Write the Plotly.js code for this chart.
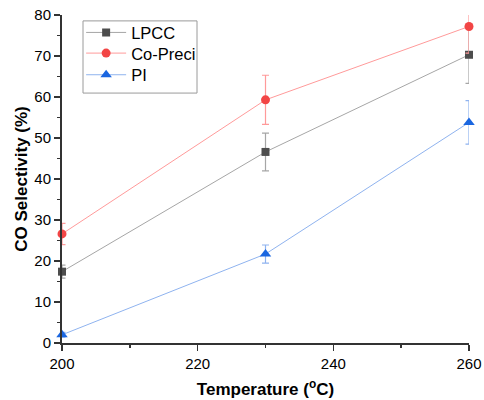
<!DOCTYPE html>
<html>
<head>
<meta charset="utf-8">
<script src="https://cdn.plot.ly/plotly-3.0.1.min.js"></script>
<style>html,body{margin:0;padding:0;background:#fff;}#chart{width:484px;height:400px;}</style>
</head>
<body>
<div id="chart"></div>
<script>
const temperature = [200, 230, 260];
const seriesNames = ["LPCC", "Co-Preci", "PI"];
const lpcc = [17.4, 46.6, 70.3];
const lpccErr = [1.6, 4.6, 7.0];
const coPreci = [26.6, 59.3, 77.2];
const coPreciErr = [2.6, 6.0, 6.5];
const pi = [2.0, 21.7, 53.8];
const piErr = [0.6, 2.2, 5.3];

const styles = [
  {line: "#a6a6a6", marker: "#4d4d4d", symbol: "square", size: 8},
  {line: "#ff9a9a", marker: "#f24545", symbol: "circle", size: 9},
  {line: "#8fb3ef", marker: "#1a66e0", symbol: "triangle-up", size: 10}
];
const ys = [lpcc, coPreci, pi];
const errs = [lpccErr, coPreciErr, piErr];
const legendIds = ["legend", "legend2", "legend3"];
const legendY = [0.946, 0.883, 0.817];

const traces = ys.map((y, i) => ({
  x: temperature, y: y, name: seriesNames[i], type: "scatter", mode: "lines+markers",
  cliponaxis: false, legend: legendIds[i],
  line: {color: styles[i].line, width: 1},
  marker: {color: styles[i].marker, symbol: styles[i].symbol, size: styles[i].size},
  error_y: {type: "data", array: errs[i], visible: true, color: styles[i].line, thickness: 1.2, width: 3.5}
}));

const font = {family: "Liberation Sans, Arial, sans-serif", color: "#000"};
const layout = {
  width: 484, height: 400,
  margin: {l: 62, r: 15, t: 15, b: 57},
  paper_bgcolor: "#fff", plot_bgcolor: "#fff",
  showlegend: true,
  shapes: [{type: "rect", xref: "paper", yref: "paper", x0: 0.0516, x1: 0.3317, y0: 0.762, y1: 0.982,
    line: {color: "#9a9a9a", width: 1}, fillcolor: "#fff", layer: "below"}],
  xaxis: {
    range: [200, 260], dtick: 20, tick0: 200, showgrid: false, zeroline: false,
    showline: true, linecolor: "#333", linewidth: 2,
    ticks: "outside", ticklen: 6, tickwidth: 1.5, tickcolor: "#333",
    minor: {dtick: 10, ticks: "outside", ticklen: 3, tickwidth: 1.5, tickcolor: "#333", showgrid: false},
    tickfont: {family: font.family, size: 15, color: "#000"},
    title: {text: "<b>Temperature (<sup>o</sup>C)</b>", font: {family: font.family, size: 17, color: "#000"}, standoff: 12}
  },
  yaxis: {
    range: [0, 80], dtick: 10, showgrid: false, zeroline: false,
    showline: true, linecolor: "#333", linewidth: 2,
    ticks: "outside", ticklen: 6, tickwidth: 1.5, tickcolor: "#333",
    minor: {dtick: 5, ticks: "outside", ticklen: 3, tickwidth: 1.5, tickcolor: "#333", showgrid: false},
    tickfont: {family: font.family, size: 15, color: "#000"},
    title: {text: "<b>CO Selectivity (%)</b>", font: {family: font.family, size: 17, color: "#000"}, standoff: 2}
  }
};
legendIds.forEach((id, i) => {
  layout[id] = {x: 0.047, y: legendY[i], xanchor: "left", yanchor: "middle", bgcolor: "rgba(0,0,0,0)",
    borderwidth: 0, font: {family: font.family, size: 16.5, color: "#000"}, itemwidth: 40};
});

Plotly.newPlot("chart", traces, layout, {displayModeBar: false, staticPlot: true});
</script>
</body>
</html>
